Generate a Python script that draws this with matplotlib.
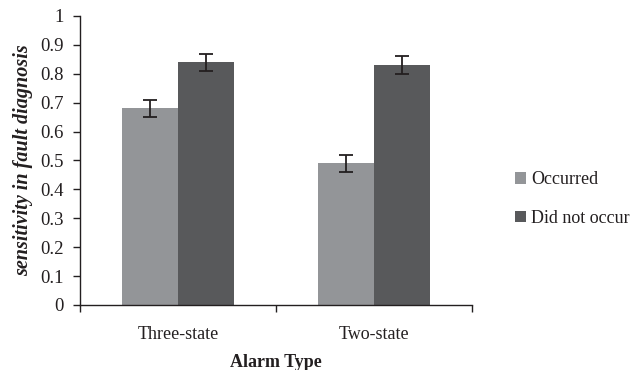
import matplotlib
matplotlib.use('Agg')
import matplotlib.pyplot as plt
import numpy as np

plt.rcParams['font.family'] = ['Liberation Serif', 'DejaVu Serif']

alarm_types = ['Three-state', 'Two-state']
occurred = [0.68, 0.49]
occurred_err = [0.03, 0.03]
not_occurred = [0.84, 0.83]
not_occurred_err = [0.03, 0.03]

fig = plt.figure(figsize=(6.41, 3.70), dpi=100)
ax = fig.add_axes([0.1248, 0.1757, 0.6115, 0.7811])

x = np.arange(len(alarm_types))
w = 0.286
ax.bar(x - w/2, occurred, w, color='#939598', label='Occurred',
       yerr=occurred_err, capsize=5, error_kw=dict(ecolor='#231f20', lw=1.3, capthick=1.3))
ax.bar(x + w/2, not_occurred, w, color='#58595b', label='Did not occur',
       yerr=not_occurred_err, capsize=5, error_kw=dict(ecolor='#231f20', lw=1.3, capthick=1.3))

ax.set_xlim(-0.5, 1.5)
ax.set_ylim(0, 1)
ax.set_yticks(np.arange(0, 1.01, 0.1))
ax.set_yticklabels(['0', '0.1', '0.2', '0.3', '0.4', '0.5', '0.6', '0.7', '0.8', '0.9', '1'])
ax.set_xticks(x)
ax.set_xticklabels(alarm_types)
ax.set_xticks([-0.5, 0.5, 1.5], minor=True)
ax.tick_params(axis='x', which='major', length=0, pad=15, labelsize=13, colors='#231f20')
ax.tick_params(axis='x', which='minor', length=5, width=1, direction='out', color='#231f20')
ax.tick_params(axis='y', length=5, width=1, direction='out', pad=7, labelsize=13.5, colors='#231f20')

for s in ['top', 'right']:
    ax.spines[s].set_visible(False)
for s in ['left', 'bottom']:
    ax.spines[s].set_color('#231f20')
    ax.spines[s].set_linewidth(1)

ax.set_xlabel('Alarm Type', fontsize=13, fontweight='bold', color='#231f20', labelpad=8)
ax.set_ylabel('sensitivity in fault diagnosis', fontsize=14.5, fontstyle='italic',
              fontweight='bold', color='#231f20', labelpad=5)

fig.legend(loc='center left', bbox_to_anchor=(0.778, 0.462), frameon=False,
           fontsize=13, handlelength=0.6, handleheight=0.6, handletextpad=0.3,
           labelspacing=1.2, labelcolor='#231f20')

fig.savefig('out.png', dpi=100)
